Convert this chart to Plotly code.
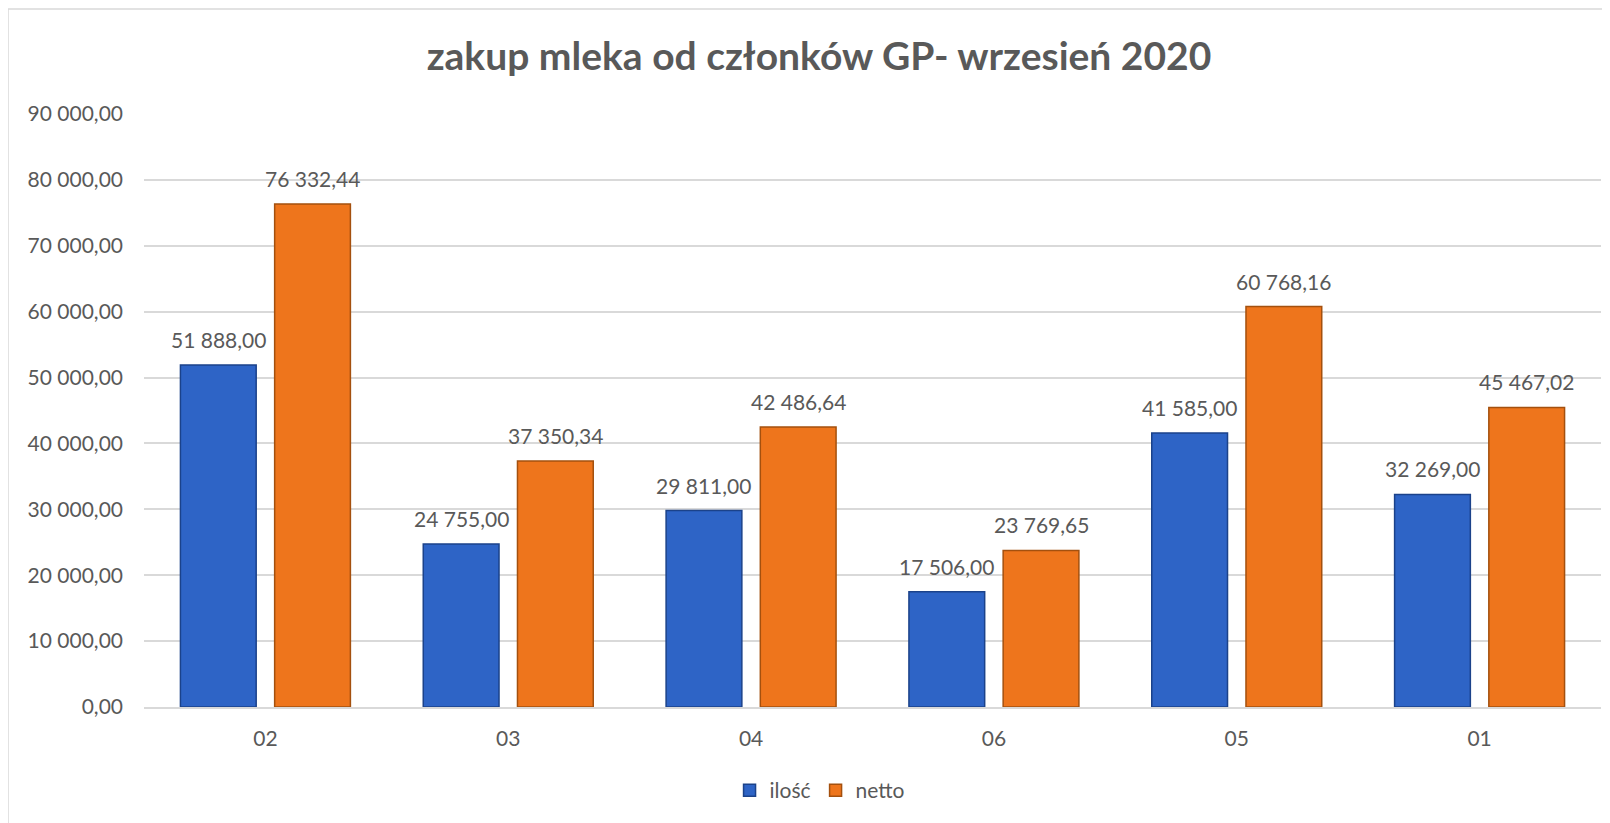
import plotly.graph_objects as go

categories = ["02", "03", "04", "06", "05", "01"]
ilosc = [51888.00, 24755.00, 29811.00, 17506.00, 41585.00, 32269.00]
netto = [76332.44, 37350.34, 42486.64, 23769.65, 60768.16, 45467.02]
tick_values = [0, 10000, 20000, 30000, 40000, 50000, 60000, 70000, 80000, 90000]
series = [("ilość", ilosc, "#2E64C6", "#1B428A"), ("netto", netto, "#EE751C", "#A4500E")]


def pl_fmt(v):
    return f"{v:,.2f}".replace(",", " ").replace(".", ",")


FONT = "Lato, 'Open Sans', sans-serif"
GRAY = "#595959"

# page body has an 8px margin: figure drawn at (8, 8)
W, H = 1602, 815
L, R, T, B = 136, 9, 106, 116
plot_w = W - L - R
BARGAP = 0.224
cat_w = plot_w / len(categories)
slot = cat_w * (1 - BARGAP) / 2

fig = go.Figure()
annotations = []
for i, (name, vals, col, edge) in enumerate(series):
    fig.add_trace(go.Bar(
        x=categories, y=vals, name=name,
        marker=dict(color=col, line=dict(color=edge, width=1.5)),
    ))
    shift = (i - 0.5) * slot
    for j, v in enumerate(vals):
        annotations.append(dict(
            x=j, y=v, xref="x", yref="y", text=pl_fmt(v), showarrow=False,
            xanchor="center", yanchor="bottom", xshift=shift, yshift=11,
            font=dict(family=FONT, size=21, color=GRAY),
        ))

fig.update_layout(
    width=W, height=H,
    separators=", ",
    paper_bgcolor="white", plot_bgcolor="white",
    margin=dict(l=L, r=R, t=T, b=B, autoexpand=False),
    font=dict(family=FONT, color=GRAY, size=21),
    title=dict(text="<b>zakup mleka od członków GP- wrzesień 2020</b>",
               x=811 / W, xref="container", xanchor="center",
               y=1 - 48 / H, yref="container", yanchor="middle",
               font=dict(family=FONT, size=39, color=GRAY)),
    barmode="group", bargap=BARGAP, bargroupgap=0.196,
    legend=dict(orientation="h", x=0.464, xanchor="center", y=-0.141, yanchor="middle",
                font=dict(family=FONT, size=21, color=GRAY), itemwidth=30),
    xaxis=dict(type="category", range=[-0.5, len(categories) - 0.5],
               showgrid=False, showline=True, linecolor="#D9D9D9", linewidth=1.5,
               ticks="", automargin=False, ticklabelstandoff=12,
               tickfont=dict(family=FONT, size=21, color=GRAY)),
    yaxis=dict(range=[0, 90000], tickvals=tick_values, tickformat=",.2f",
               showgrid=True, gridcolor="#D9D9D9", gridwidth=1.5, automargin=False,
               zeroline=False, showline=False, ticks="", ticklabelstandoff=20,
               tickfont=dict(family=FONT, size=21, color=GRAY)),
    annotations=annotations,
    shapes=[dict(type="rect", xref="paper", yref="paper",
                 x0=(0 - L) / plot_w, x1=(W + 10 - L) / plot_w,
                 y0=(699 - 830) / 593, y1=(699 - 1) / 593,
                 line=dict(color="#D9D9D9", width=1.5), fillcolor="rgba(0,0,0,0)", layer="below")],
)

fig.write_html("out.html")
